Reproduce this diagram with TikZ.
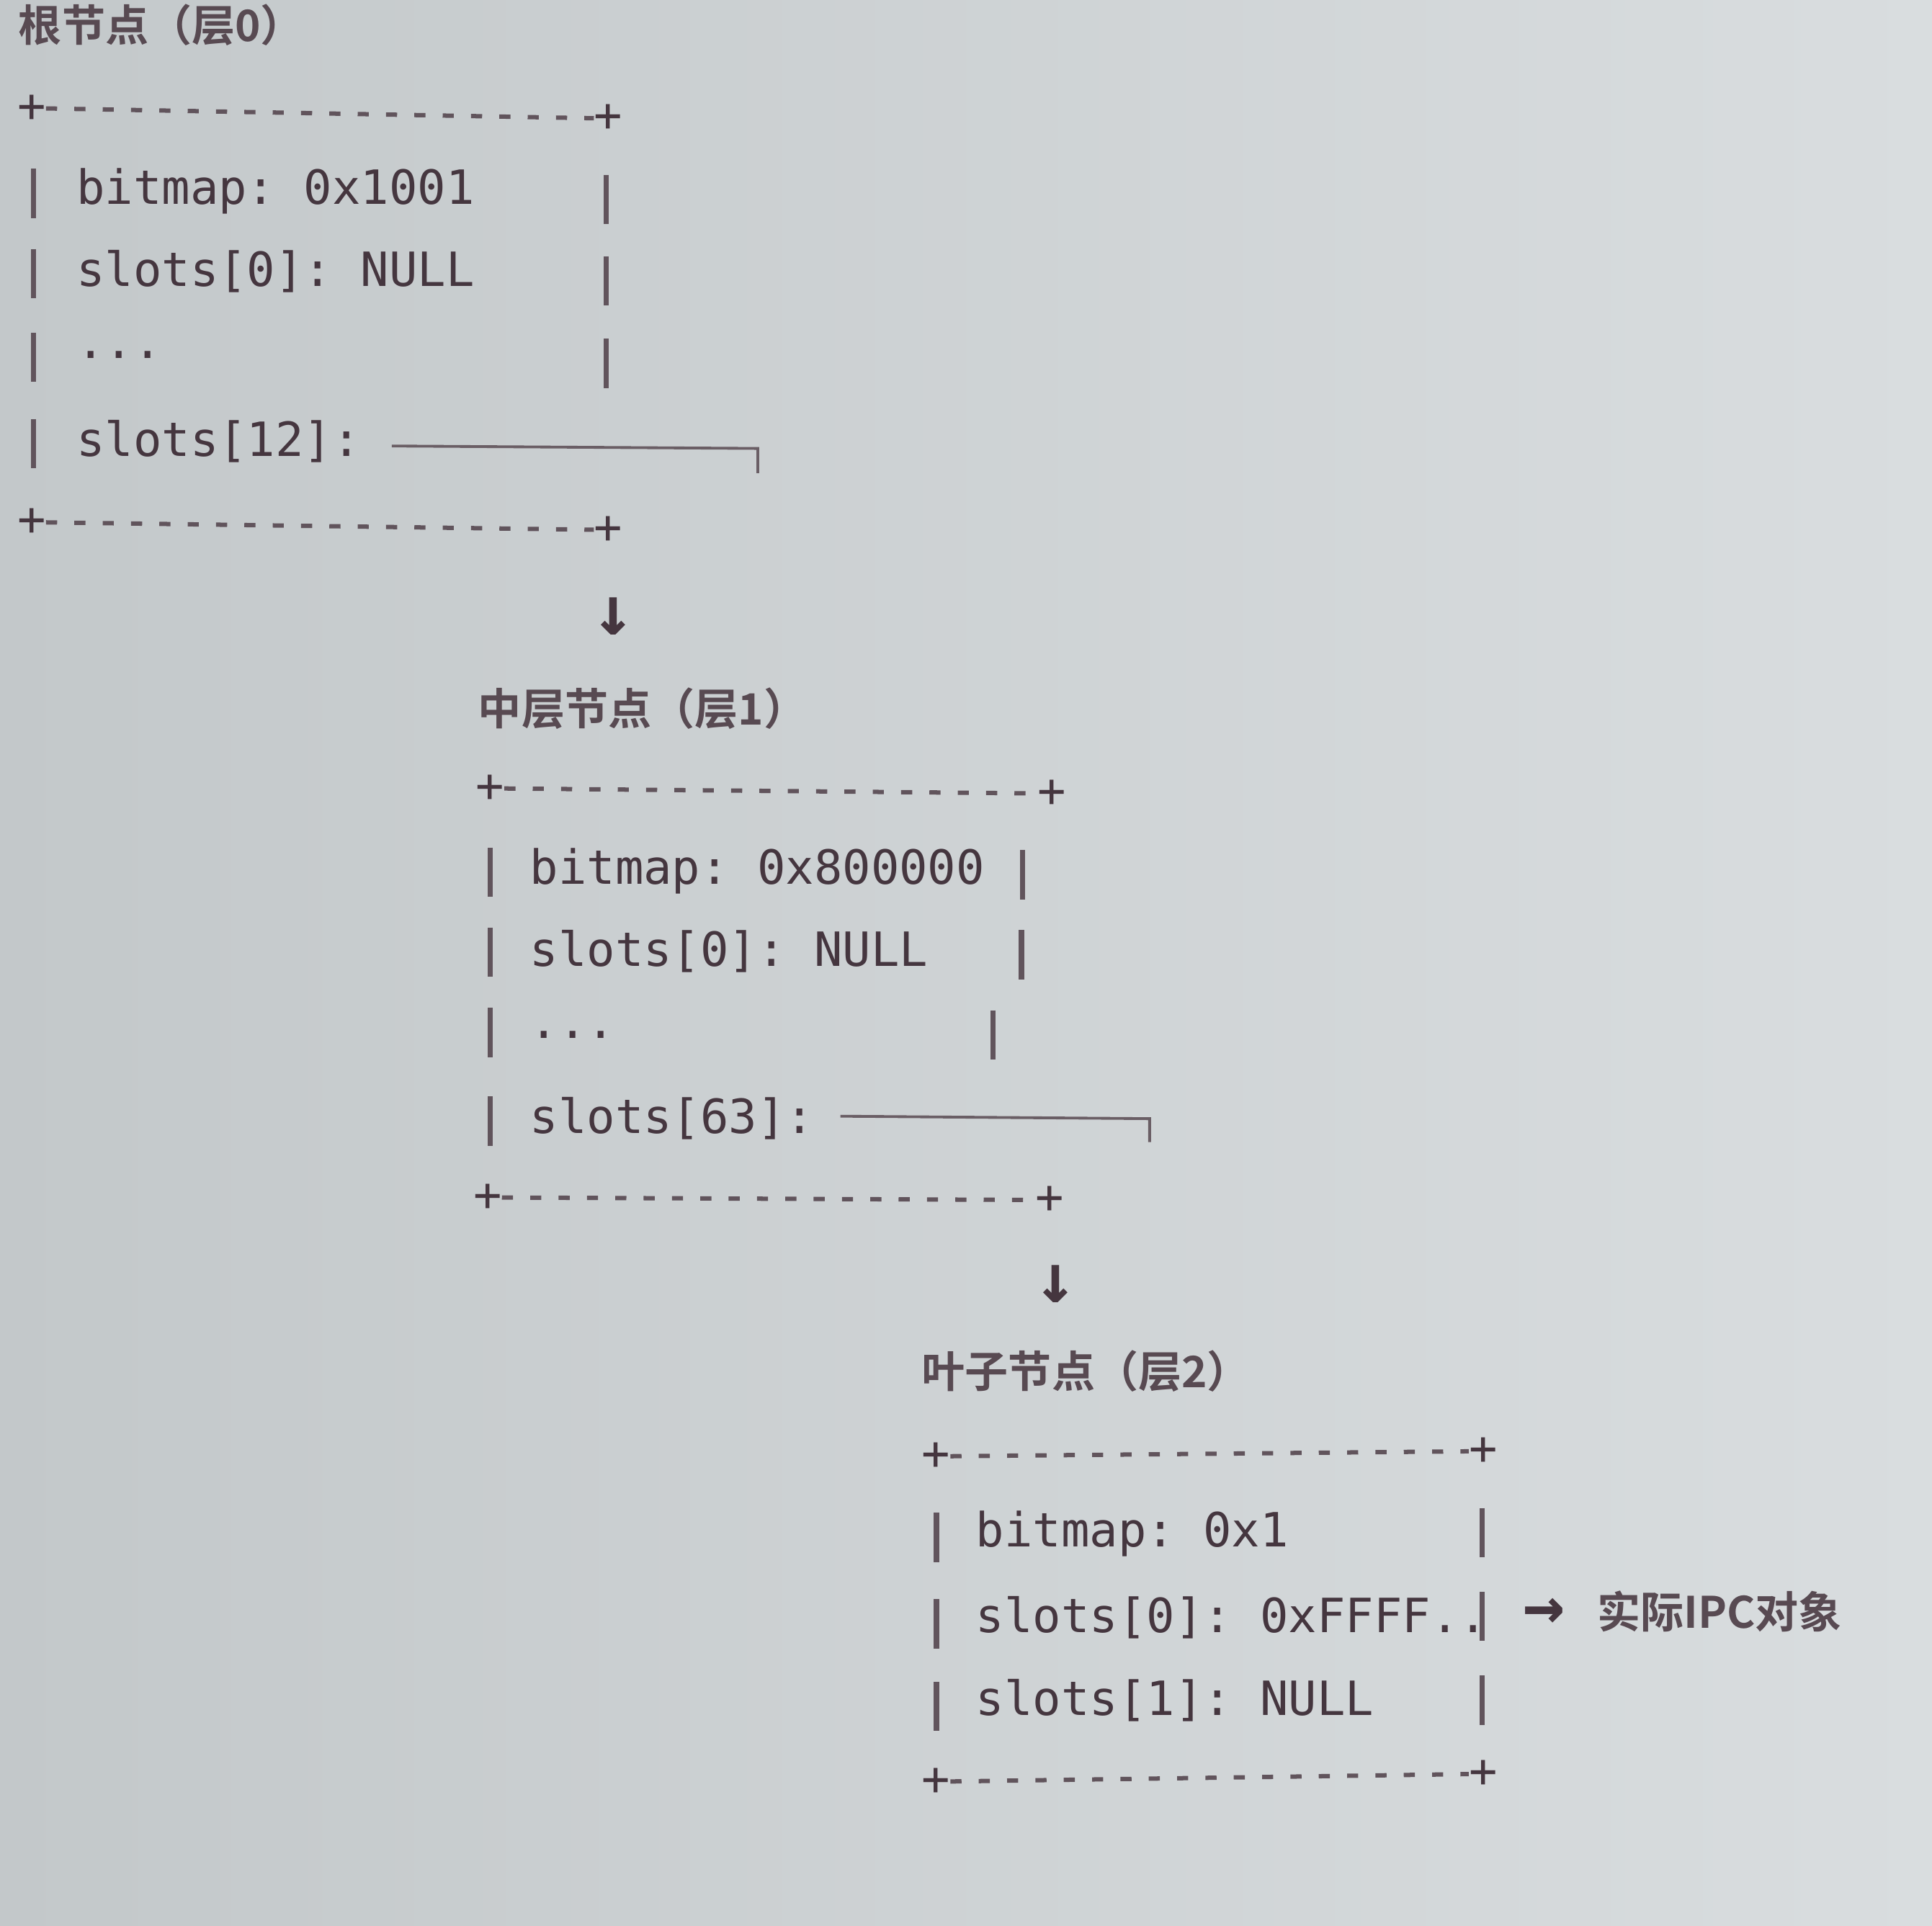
\documentclass[tikz,border=0pt]{standalone}
\usepackage{fontspec}
\setmonofont{DejaVu Sans Mono}
\newfontfamily\cjk{Noto Sans CJK SC}[BoldFont={Noto Sans CJK SC Bold}]
\definecolor{ink}{HTML}{45363F}
\definecolor{bgA}{HTML}{C3C8CA}
\definecolor{bgB}{HTML}{D9DDDF}
\begin{document}
\begin{tikzpicture}[x=0.05cm,y=-0.05cm,
  txt/.style={anchor=west,inner sep=0,text=ink,font=\ttfamily\fontsize{54.5}{64}\selectfont},
  ttl/.style={anchor=west,inner sep=0,text=ink!90,font=\cjk\bfseries\fontsize{50}{60}\selectfont},
  arr/.style={anchor=center,inner sep=0,text=ink,font=\ttfamily\bfseries\fontsize{80}{90}\selectfont},
  bar/.style={draw=ink!85,line width=6pt},
  dsh/.style={draw=ink!85,line width=5pt,dash pattern=on 0.45cm off 0.7cm},
  lnk/.style={draw=ink!80,line width=3.2pt}]
\useasboundingbox (0,0) rectangle (1568,1563);
\shade[left color=bgA,right color=bgB] (0,0) rectangle (1568,1563);
% ---------- root
\node[ttl] (t0) at (15,20) {根节点（层0）};
\node[txt] (p0a) at (14,88) {+};
\node[txt] (p0b) at (482,96) {+};
\draw[dsh] (p0a.east) -- (p0b.west);
\node[txt] (r0) at (62,155) {bitmap: 0x1001};
\node[txt] (r1) at (62,220) {slots[0]: NULL};
\node[txt] (r2) at (62,288) {...};
\node[txt] (r3) at (62,358) {slots[12]:};
\foreach \y in {157,222,290,360}{\draw[bar] (27,\y-20) -- (27,\y+20);}
\foreach \y in {162,228,295}{\draw[bar] (492,\y-20) -- (492,\y+20);}
\coordinate (c0a) at (318,362); \coordinate (c0b) at (615,364); \coordinate (c0c) at (615,384);
\draw[lnk] (c0a) -- (c0b) -- (c0c);
\node[txt] (p0c) at (14,424) {+};
\node[txt] (p0d) at (482,430) {+};
\draw[dsh] (p0c.east) -- (p0d.west);
\node[arr] (ar0) at (498,500) {↓};
% ---------- middle
\node[ttl] (t1) at (388,575) {中层节点（层1）};
\node[txt] (p1a) at (386,640) {+};
\node[txt] (p1b) at (842,644) {+};
\draw[dsh] (p1a.east) -- (p1b.west);
\node[txt] (m0) at (430,707) {bitmap: 0x800000};
\node[txt] (m1) at (430,772) {slots[0]: NULL};
\node[txt] (m2) at (430,840) {...};
\node[txt] (m3) at (430,908) {slots[63]:};
\foreach \y in {708,773,838,910}{\draw[bar] (398,\y-20) -- (398,\y+20);}
\draw[bar] (830,690) -- (830,730);
\draw[bar] (829,755) -- (829,795);
\draw[bar] (806,820) -- (806,860);
\coordinate (c1a) at (682,906); \coordinate (c1b) at (933,908); \coordinate (c1c) at (933,927);
\draw[lnk] (c1a) -- (c1b) -- (c1c);
\node[txt] (p1c) at (384,972) {+};
\node[txt] (p1d) at (840,974) {+};
\draw[dsh] (p1c.east) -- (p1d.west);
\node[arr] (ar1) at (857,1042) {↓};
% ---------- leaf
\node[ttl] (t2) at (748,1113) {叶子节点（层2）};
\node[txt] (p2a) at (748,1182) {+};
\node[txt] (p2b) at (1192,1178) {+};
\draw[dsh] (p2a.east) -- (p2b.west);
\node[txt] (l0) at (792,1245) {bitmap: 0x1};
\node[txt] (l1) at (792,1313) {slots[0]: 0xFFFF..};
\node[txt] (l2) at (792,1380) {slots[1]: NULL};
\foreach \y in {1248,1318,1385}{\draw[bar] (760,\y-20) -- (760,\y+20);}
\foreach \y in {1244,1312,1380}{\draw[bar] (1203,\y-20) -- (1203,\y+20);}
\node[arr] (ar2) at (1253,1310) {→};
\node[ttl] (ipc) at (1296,1308) {实际IPC对象};
\node[txt] (p2c) at (748,1446) {+};
\node[txt] (p2d) at (1192,1440) {+};
\draw[dsh] (p2c.east) -- (p2d.west);
\end{tikzpicture}
\end{document}
